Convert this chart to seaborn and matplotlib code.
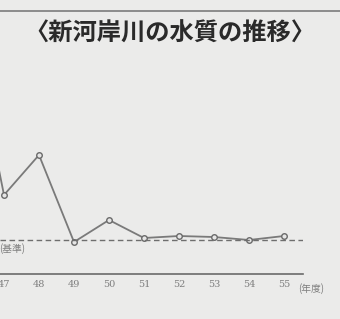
import matplotlib
matplotlib.use("Agg")
import matplotlib.pyplot as plt
from matplotlib.lines import Line2D
import seaborn as sns
import pandas as pd

# data
years = [46, 47, 48, 49, 50, 51, 52, 53, 54, 55]
values = [27.0, 9.5, 13.5, 4.8, 7.0, 5.2, 5.4, 5.3, 5.0, 5.4]
tick_years = [47, 48, 49, 50, 51, 52, 53, 54, 55]
tick_labels = ["47", "48", "49", "50", "51", "52", "53", "54", "55"]
standard = 5.0
title = "〈新河岸川の水質の推移〉"
unit_label = "(年度)"
standard_label = "(基準)"

sns.set_theme(style="white")
plt.rcParams['font.family'] = ['Noto Sans CJK JP', 'DejaVu Sans']

bg = "#ebebea"
fig = plt.figure(figsize=(3.40, 3.19), dpi=100, facecolor=bg)
W, H = 340, 319
ax = fig.add_axes([0, (H - 274) / H, 303 / W, (274 - 50) / H])
ax.set_facecolor(bg)

df = pd.DataFrame({"year": years, "value": values})
sns.lineplot(data=df, x="year", y="value", ax=ax, color="#7a7a7a", lw=1.3,
             marker="o", markersize=4, markerfacecolor="#e6e6e6",
             markeredgecolor="#6a6a6a", markeredgewidth=1.0)

ax.axhline(standard, color="#6e6e6e", lw=1.0, ls=(0, (4, 2.5)))

px = 35.0
ax.set_xlim(47 - 4 / px, 47 + (303 - 4) / px)
ax.set_ylim(standard - 3.4, standard + 19.0)

for s in ["top", "right", "left"]:
    ax.spines[s].set_visible(False)
ax.spines["bottom"].set_color("#6a6a6a")
ax.spines["bottom"].set_linewidth(1.2)
ax.set_yticks([])
ax.set_xticks(tick_years)
ax.set_xticklabels(tick_labels, family=['DejaVu Serif'])
ax.tick_params(axis="x", direction="inout", length=4, width=1, color="#777777",
               labelsize=7, labelcolor="#7e7e7e", pad=2)
ax.set_xlabel("")
ax.set_ylabel("")

ax.annotate(unit_label, xy=(55.4, 0), xycoords=("data", "axes fraction"),
            xytext=(0, -10.5), textcoords="offset points", ha="left", va="center",
            fontsize=7, color="#7e7e7e")
ax.annotate(standard_label, xy=(47 - 4 / px, standard), xycoords="data",
            xytext=(25 * 0.72, -6), textcoords="offset points", ha="right", va="center",
            fontsize=7, color="#7e7e7e", annotation_clip=False)

fig.text(170 / W, 1 - 33.5 / H, title, ha="center", va="center", fontsize=17.5,
         fontweight="bold", color="#2a2a2a")
fig.add_artist(Line2D([0, 1], [1 - 10.5 / H, 1 - 10.5 / H], transform=fig.transFigure,
                      color="#8c8c8c", lw=1.4))

fig.savefig("out.png", dpi=100, facecolor=bg)
